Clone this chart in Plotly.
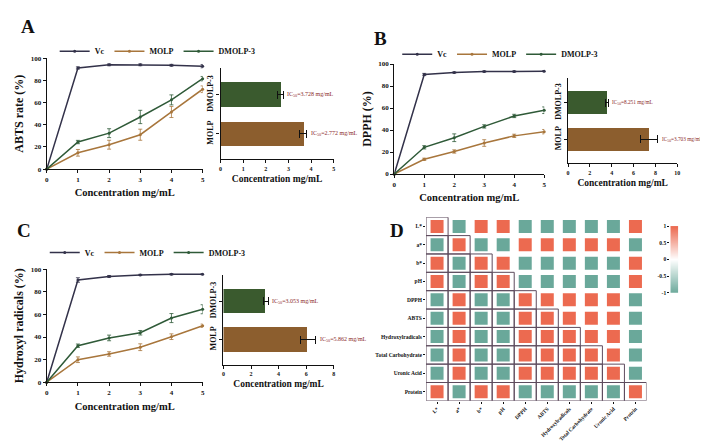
import plotly.graph_objects as go

W, H = 708, 444
FONT = "Liberation Serif"

# ---- data ----
conc = [0, 1, 2, 3, 4, 5]
series_names = ["Vc", "MOLP", "DMOLP-3"]

abts_vc = [0, 91.2, 94.0, 94.0, 93.6, 92.8]
abts_molp = [0, 14.7, 22.0, 31.0, 51.5, 72.0]
abts_dmolp = [0, 24.4, 32.4, 47.0, 62.4, 81.5]
abts_vc_err = [0, 1.0, 0.8, 0.8, 0.8, 1.5]
abts_molp_err = [0, 3.0, 4.0, 5.0, 5.0, 3.0]
abts_dmolp_err = [0, 1.5, 4.0, 6.0, 4.5, 2.0]

dpph_vc = [0, 90.5, 92.3, 93.2, 93.2, 93.5]
dpph_molp = [0, 13.4, 20.5, 28.2, 34.7, 38.5]
dpph_dmolp = [0, 24.3, 33.0, 43.3, 52.8, 58.0]
dpph_vc_err = [0, 1.0, 0.5, 0.5, 0.5, 0.5]
dpph_molp_err = [0, 1.0, 1.5, 3.0, 1.5, 2.0]
dpph_dmolp_err = [0, 1.5, 3.5, 1.5, 1.5, 3.0]

oh_vc = [0, 90.5, 93.7, 95.0, 95.6, 95.6]
oh_molp = [0, 19.9, 25.0, 31.0, 40.3, 50.0]
oh_dmolp = [0, 32.3, 39.2, 43.8, 56.8, 64.6]
oh_vc_err = [0, 2.0, 0.8, 0.5, 0.5, 0.5]
oh_molp_err = [0, 2.5, 2.0, 3.0, 2.5, 1.5]
oh_dmolp_err = [0, 1.5, 2.5, 2.0, 4.0, 4.0]

bar_cats = ["MOLP", "DMOLP-3"]
abts_ic = [3.65, 2.65]
abts_ic_err = [0.17, 0.12]
abts_ic_text = ["IC<sub>50</sub>=2.772 mg/mL", "IC<sub>50</sub>=3.728 mg/mL"]
dpph_ic = [7.42, 3.58]
dpph_ic_err = [0.80, 0.12]
dpph_ic_text = ["IC<sub>50</sub>=3.703 mg/mL", "IC<sub>50</sub>=8.251 mg/mL"]
oh_ic = [6.13, 3.07]
oh_ic_err = [0.55, 0.17]
oh_ic_text = ["IC<sub>50</sub>=5.862 mg/mL", "IC<sub>50</sub>=3.053 mg/mL"]

corr_labels = ["L*", "a*", "b*", "pH", "DPPH", "ABTS", "Hydroxylradicals",
               "Total Carbohydrate", "Uronic Acid", "Protein"]
corr = [
    [1, -1, 1, 1, -1, -1, -1, -1, -1, 1],
    [-1, 1, -1, -1, 1, 1, 1, 1, 1, -1],
    [1, -1, 1, 1, -1, -1, -1, -1, -1, 1],
    [1, -1, 1, 1, -1, -1, -1, -1, -1, 1],
    [-1, 1, -1, -1, 1, 1, 1, 1, 1, -1],
    [-1, 1, -1, -1, 1, 1, 1, 1, 1, -1],
    [-1, 1, -1, -1, 1, 1, 1, 1, 1, -1],
    [-1, 1, -1, -1, 1, 1, 1, 1, 1, -1],
    [-1, 1, -1, -1, 1, 1, 1, 1, 1, -1],
    [1, -1, 1, 1, -1, -1, -1, -1, -1, 1],
]
cbar_levels = [-1, -0.5, 0, 0.5, 1]

line_colors = ["#33324a", "#a8763c", "#2f5a38"]
bar_colors = ["#8c5e2e", "#3a5a2e"]
corr_scale = [[0, "#6aa89a"], [0.5, "#ffffff"], [1, "#ec6a50"]]


def dx(a, b):
    return [a / W, b / W]


def dy(top, bottom):
    return [1 - bottom / H, 1 - top / H]


fig = go.Figure()

# ---- line panels ----
line_sets = [
    ("x", "y", "legend", [abts_vc, abts_molp, abts_dmolp], [abts_vc_err, abts_molp_err, abts_dmolp_err]),
    ("x3", "y3", "legend2", [dpph_vc, dpph_molp, dpph_dmolp], [dpph_vc_err, dpph_molp_err, dpph_dmolp_err]),
    ("x5", "y5", "legend3", [oh_vc, oh_molp, oh_dmolp], [oh_vc_err, oh_molp_err, oh_dmolp_err]),
]
for xa, ya, lg, ys, errs in line_sets:
    for name, yv, ev, col in zip(series_names, ys, errs, line_colors):
        fig.add_trace(go.Scatter(
            x=conc, y=yv, name=name, mode="lines+markers", xaxis=xa, yaxis=ya, legend=lg,
            line=dict(color=col, width=1.5), marker=dict(size=3, color=col),
            error_y=dict(type="data", array=ev, color=col, thickness=0.8, width=2),
            cliponaxis=False))

# ---- bar panels ----
bar_sets = [
    ("x2", "y2", abts_ic, abts_ic_err, abts_ic_text, 6),
    ("x4", "y4", dpph_ic, dpph_ic_err, dpph_ic_text, 5.3),
    ("x6", "y6", oh_ic, oh_ic_err, oh_ic_text, 6),
]
for xa, ya, vals, errs, texts, fs in bar_sets:
    fig.add_trace(go.Bar(
        x=vals, y=[0, 1], orientation="h", xaxis=xa, yaxis=ya, width=0.63,
        marker=dict(color=bar_colors, line=dict(width=0)), showlegend=False,
        error_x=dict(type="data", array=errs, color="#111111", thickness=1, width=4)))
    for i, (v, e, t) in enumerate(zip(vals, errs, texts)):
        fig.add_annotation(x=v + e, y=i, xref=xa, yref=ya, text=t, showarrow=False,
                           xanchor="left", xshift=2,
                           font=dict(family=FONT, size=fs, color="#8b2a2a"))

# ---- correlation heatmap ----
cx, cy, cz = [], [], []
for i, row in enumerate(corr):
    for j, v in enumerate(row):
        cx.append(j)
        cy.append(i)
        cz.append(v)
fig.add_trace(go.Scatter(
    x=cx, y=cy, mode="markers", xaxis="x7", yaxis="y7", showlegend=False,
    marker=dict(symbol="square", size=13, color=cz, colorscale=corr_scale, cmin=-1, cmax=1,
                line=dict(width=0))))
for i in range(len(corr_labels)):
    for j in range(i + 1):
        fig.add_shape(type="rect", xref="x7", yref="y7", x0=j - 0.5, x1=j + 0.5,
                      y0=i - 0.5, y1=i + 0.5, line=dict(color="#5e4c5e", width=1))

# colour scale bar
fig.add_trace(go.Heatmap(
    z=[[v] for v in cbar_levels], x=[0], y=cbar_levels, xaxis="x8", yaxis="y8",
    colorscale=corr_scale, zmin=-1, zmax=1, zsmooth="best", showscale=False, hoverinfo="skip"))

tickfont = dict(family=FONT, size=7, color="#111", weight="bold")
titlefont = dict(family=FONT, size=10.5, color="#111", weight="bold")
axis_common = dict(showline=True, linecolor="#111", linewidth=1.2, ticks="outside",
                   ticklen=3, tickwidth=1, tickcolor="#111", showgrid=False, zeroline=False,
                   tickfont=tickfont)


def line_axes(xd, yd, ytitle):
    xa = dict(axis_common, domain=xd, range=[0, 5], dtick=1,
              title=dict(text="Concentration mg/mL", font=titlefont, standoff=6))
    ya = dict(axis_common, domain=yd, range=[0, 100], dtick=20,
              title=dict(text=ytitle, font=dict(titlefont, size=12), standoff=4))
    return xa, ya


def bar_axes(xd, yd, xmax, dt):
    xa = dict(axis_common, domain=xd, range=[0, xmax], dtick=dt,
              tickfont=dict(tickfont, size=6),
              title=dict(text="Concentration mg/mL", font=dict(titlefont, size=9.5), standoff=4))
    ya = dict(axis_common, domain=yd, range=[-0.65, 1.68], tickvals=[0, 1], ticktext=bar_cats,
              tickangle=-90, tickfont=dict(tickfont, size=8))
    return xa, ya


xa1, ya1 = line_axes(dx(37, 194), dy(47, 160), "ABTS rate (%)")
xa2, ya2 = bar_axes(dx(212, 326), dy(57, 150), 5, 1)
xa3, ya3 = line_axes(dx(387, 538), dy(53, 165), "DPPH (%)")
xa4, ya4 = bar_axes(dx(562, 672), dy(67, 154), 10, 2)
xa5, ya5 = line_axes(dx(37, 194), dy(262, 377), "Hydroxyl radicals (%)")
xa6, ya6 = bar_axes(dx(215, 326), dy(268, 359), 8, 2)

n = len(corr_labels)
xa7 = dict(domain=dx(419, 641), range=[-0.5, n - 0.5], tickvals=list(range(n)),
           ticktext=corr_labels, tickangle=-45, showgrid=False, zeroline=False,
           showline=False, ticks="outside", ticklen=2, tickcolor="#111",
           tickfont=dict(family=FONT, size=5.3, color="#111", weight="bold"))
ya7 = dict(domain=dy(209, 396), range=[n - 0.5, -0.5], tickvals=list(range(n)),
           ticktext=corr_labels, showgrid=False, zeroline=False, showline=False,
           ticks="outside", ticklen=2, tickcolor="#111",
           tickfont=dict(family=FONT, size=5.5, color="#111", weight="bold"))
xa8 = dict(domain=dx(665, 673), range=[-0.5, 0.5], showticklabels=False, showgrid=False,
           zeroline=False, showline=False, ticks="")
ya8 = dict(domain=dy(218, 286), range=[-1, 1], tickvals=cbar_levels,
           ticktext=["-1", "-0.5", "0", "0.5", "1"], showgrid=False, zeroline=False,
           showline=False, ticks="outside", ticklen=2, tickcolor="#111",
           tickfont=dict(family=FONT, size=5.5, color="#111", weight="bold"))

legend_common = dict(orientation="h", xanchor="left", yanchor="middle", bgcolor="rgba(0,0,0,0)",
                     font=dict(family=FONT, size=8, color="#111", weight="bold"),
                     itemwidth=30, tracegroupgap=0)

fig.update_layout(
    width=W, height=H, margin=dict(l=0, r=0, t=0, b=0),
    paper_bgcolor="white", plot_bgcolor="white", bargap=0,
    xaxis=dict(xa1, anchor="y"), yaxis=dict(ya1, anchor="x"),
    xaxis2=dict(xa2, anchor="y2"), yaxis2=dict(ya2, anchor="x2"),
    xaxis3=dict(xa3, anchor="y3"), yaxis3=dict(ya3, anchor="x3"),
    xaxis4=dict(xa4, anchor="y4"), yaxis4=dict(ya4, anchor="x4"),
    xaxis5=dict(xa5, anchor="y5"), yaxis5=dict(ya5, anchor="x5"),
    xaxis6=dict(xa6, anchor="y6"), yaxis6=dict(ya6, anchor="x6"),
    xaxis7=dict(xa7, anchor="y7"), yaxis7=dict(ya7, anchor="x7"),
    xaxis8=dict(xa8, anchor="y8"), yaxis8=dict(ya8, anchor="x8"),
    legend=dict(legend_common, x=45 / W, y=1 - 40 / H),
    legend2=dict(legend_common, x=390 / W, y=1 - 43 / H),
    legend3=dict(legend_common, x=35 / W, y=1 - 245 / H),
)

for letter, px, py in [("A", 18, 15), ("B", 373, 27), ("C", 14, 223), ("D", 390, 223)]:
    fig.add_annotation(x=px / W, y=1 - py / H, xref="paper", yref="paper", text=letter,
                       showarrow=False, xanchor="center", yanchor="middle",
                       font=dict(family=FONT, size=19, color="#111", weight="bold"))

fig.write_html("out.html")
